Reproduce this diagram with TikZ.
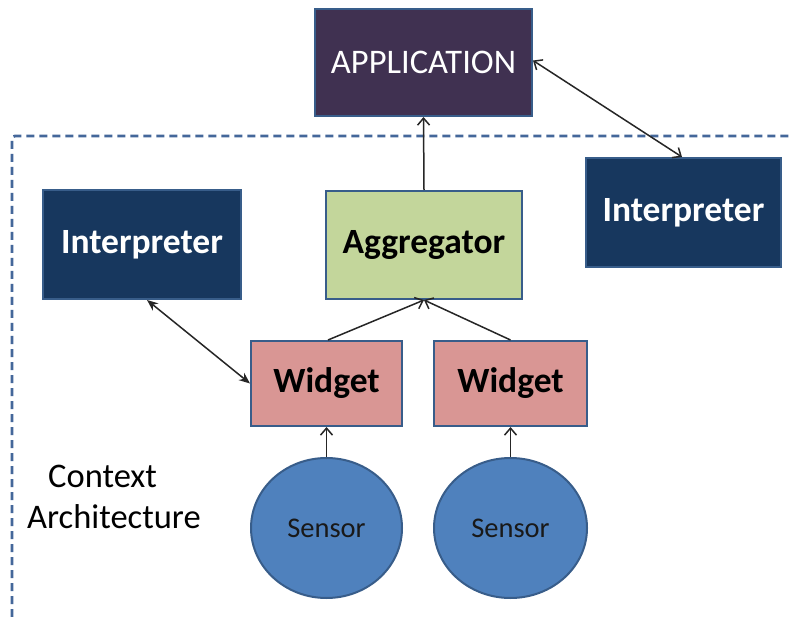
\documentclass[tikz,border=0pt]{standalone}
\usepackage{fontspec}
\setmainfont{Carlito}
\usetikzlibrary{arrows.meta,shapes.geometric}

\definecolor{edgeblue}{HTML}{385D8A}
\definecolor{appfill}{HTML}{403151}
\definecolor{interfill}{HTML}{17375E}
\definecolor{aggfill}{HTML}{C3D69B}
\definecolor{widfill}{HTML}{D99694}
\definecolor{senfill}{HTML}{4F81BD}
\definecolor{boundary}{HTML}{44679A}

\tikzset{
  block/.style={rectangle, draw=edgeblue, line width=2pt, inner sep=0pt,
    font=\fontsize{34.5}{40}\selectfont},
  appbox/.style={block, fill=appfill, text=white},
  interbox/.style={block, fill=interfill, text=white, font=\fontsize{35.5}{40}\selectfont\bfseries},
  aggbox/.style={block, fill=aggfill, text=black, font=\fontsize{35.5}{40}\selectfont\bfseries},
  widbox/.style={block, fill=widfill, text=black, font=\fontsize{35.5}{40}\selectfont\bfseries},
  senbox/.style={ellipse, draw=edgeblue, line width=2pt, fill=senfill, inner sep=0pt,
    text=black!90, font=\fontsize{28.5}{32}\selectfont},
  link/.style={line width=1.5pt, draw=black!85},
  openhead/.style={-{Straight Barb[length=7pt,width=12pt]}},
  twoopen/.style={{Straight Barb[length=7pt,width=12pt]}-{Straight Barb[length=7pt,width=12pt]}},
  twofilled/.style={{Stealth[length=11pt,width=9pt]}-{Stealth[length=11pt,width=9pt]}},
}

\begin{document}
\begin{tikzpicture}[x=1pt,y=-1pt]
  \useasboundingbox[fill=white] (0,0) rectangle (792,617);

  % boundary of the context architecture
  \draw[boundary, line width=2.8pt, dash pattern=on 8pt off 5pt, rounded corners=3pt]
    (12,617) -- (12,136) -- (792,136);

  % components
  \node[appbox, minimum width=217pt, minimum height=107pt] (app) at (423.5,62.5) {APPLICATION};
  \node[interbox, minimum width=195pt, minimum height=109pt] (interR) at (683.5,212.5) {Interpreter};
  \node[interbox, minimum width=198pt, minimum height=109pt] (interL) at (142,244.5) {Interpreter};
  \node[aggbox, minimum width=196pt, minimum height=108pt] (agg) at (424,245) {Aggregator};
  \node[widbox, minimum width=151pt, minimum height=85pt] (widL) at (326.5,383.5) {Widget};
  \node[widbox, minimum width=153pt, minimum height=85pt] (widR) at (510.5,383.5) {Widget};
  \node[senbox, minimum width=151pt, minimum height=140pt] (senL) at (326.5,528) {Sensor};
  \node[senbox, minimum width=153pt, minimum height=140pt] (senR) at (510.5,528) {Sensor};

  \node[align=left, anchor=west, inner sep=0pt, font=\fontsize{34.5}{41}\selectfont, text=black]
    (label) at (27,497) {\hspace*{21pt}Context\\Architecture};

  % connectors
  \draw[link, openhead] (agg.north) -- (app.south);
  \draw[link, openhead] ([xshift=1.5pt]widL.north) -- (agg.south);
  \draw[link, openhead] (widR.north) -- (agg.south);
  \draw[link, openhead] (senL.north) -- (widL.south);
  \draw[link, openhead] (senR.north) -- (widR.south);
  \draw[link, twofilled] ([xshift=5pt]interL.south) -- (widL.west);
  \draw[link, twoopen] ([yshift=2pt]app.east) -- ([xshift=-1.5pt]interR.north);
\end{tikzpicture}
\end{document}
